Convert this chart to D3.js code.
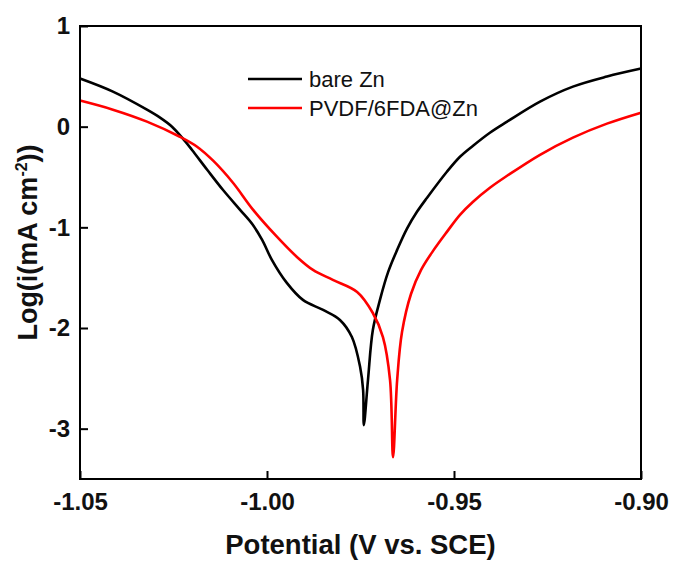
<!DOCTYPE html>
<html>
<head>
<meta charset="utf-8">
<script src="https://cdn.jsdelivr.net/npm/d3@7"></script>
<style>
  body { margin: 0; background: #fff; }
  text { font-family: Arial, "Liberation Sans", sans-serif; }
</style>
</head>
<body>
<div id="chart"></div>
<script>
// Tafel curves
const bareE = [-1.0500, -1.0412, -1.0321, -1.0286, -1.0254, -1.0227, -1.0201, -1.0160, -1.0118, -1.0072, -1.0040,
  -1.0013, -0.9987, -0.9947, -0.9904, -0.9850, -0.9805, -0.9773, -0.9751, -0.9743, -0.9741, -0.9730, -0.9717,
  -0.9698, -0.9676, -0.9652, -0.9626, -0.9599, -0.9572, -0.9519, -0.9484, -0.9449, -0.9404, -0.9358, -0.9270,
  -0.9182, -0.9091, -0.9000]
const bareLog = [0.478, 0.348, 0.169, 0.090, 0.000, -0.109, -0.229, -0.428, -0.627, -0.826, -0.965,
  -1.124, -1.323, -1.552, -1.721, -1.821, -1.920, -2.090, -2.388, -2.617, -2.965, -2.517, -2.020,
  -1.721, -1.443, -1.224, -1.015, -0.846, -0.706, -0.448, -0.299, -0.189, -0.060, 0.050, 0.249,
  0.398, 0.498, 0.577]

const pvdfE = [-1.0500, -1.0412, -1.0321, -1.0233, -1.0187, -1.0144, -1.0091, -1.0037, -0.9973,
  -0.9920, -0.9877, -0.9824, -0.9759, -0.9717, -0.9690, -0.9671, -0.9663, -0.9652, -0.9639,
  -0.9615, -0.9588, -0.9556, -0.9519, -0.9484, -0.9449, -0.9404, -0.9358, -0.9270, -0.9182,
  -0.9091, -0.9000]
const pvdfLog = [0.259, 0.169, 0.050, -0.100, -0.199, -0.338, -0.557, -0.826, -1.095,
  -1.294, -1.423, -1.522, -1.642, -1.851, -2.090, -2.517, -3.284, -2.517, -2.040,
  -1.662, -1.423, -1.234, -1.045, -0.876, -0.746, -0.607, -0.488, -0.279, -0.109,
  0.030, 0.139]

const xTicks = [-1.05, -1.00, -0.95, -0.90]
const yTicks = [1, 0, -1, -2, -3]
const seriesNames = ["bare Zn", "PVDF/6FDA@Zn"]
const seriesColors = ["#000000", "#ff0000"]

const margin = {top: 26, right: 33, bottom: 82, left: 80}
const width = 674 - margin.left - margin.right
const height = 561 - margin.top - margin.bottom

const svg = d3.select("#chart").append("svg")
    .attr("width", 674)
    .attr("height", 561)
  .append("g")
    .attr("transform", `translate(${margin.left},${margin.top})`)

const x = d3.scaleLinear().domain([-1.05, -0.90]).range([0, width])
const y = d3.scaleLinear().domain([-3.5, 1]).range([height, 0])

// curves
const series = [
  bareE.map((e, i) => ({e: e, v: bareLog[i]})),
  pvdfE.map((e, i) => ({e: e, v: pvdfLog[i]}))
]
const line = d3.line()
    .x(d => x(d.e))
    .y(d => y(d.v))
    .curve(d3.curveCatmullRom.alpha(0.5))

svg.selectAll(".curve")
    .data(series)
  .enter().append("path")
    .attr("class", "curve")
    .attr("d", line)
    .attr("fill", "none")
    .attr("stroke", (d, i) => seriesColors[i])
    .attr("stroke-width", 2.6)
    .attr("stroke-linejoin", "round")

// axes, ticks point inward, plain hyphen for minus
const xAxis = d3.axisBottom(x).tickValues(xTicks).tickFormat(d => d.toFixed(2))
    .tickSizeInner(-8).tickSizeOuter(0).tickPadding(14)
const yAxis = d3.axisLeft(y).tickValues(yTicks).tickFormat(d => String(d))
    .tickSizeInner(-8).tickSizeOuter(0).tickPadding(10)

const gx = svg.append("g")
    .attr("transform", `translate(0,${height})`)
    .call(xAxis)
const gy = svg.append("g").call(yAxis)

gx.select(".domain").remove()
gy.select(".domain").remove()
svg.selectAll(".tick line").attr("stroke", "#000").attr("stroke-width", 2)
svg.selectAll(".tick text")
    .attr("font-size", "24px")
    .attr("font-weight", "bold")
    .attr("fill", "#111")
gx.selectAll(".tick text").attr("dy", "0.71em")

// frame
svg.append("rect")
    .attr("width", width)
    .attr("height", height)
    .attr("fill", "none")
    .attr("stroke", "#000")
    .attr("stroke-width", 2)

// axis titles
svg.append("text")
    .attr("x", width / 2)
    .attr("y", height + 75)
    .attr("text-anchor", "middle")
    .attr("font-size", "27.5px")
    .attr("font-weight", "bold")
    .attr("fill", "#111")
    .text("Potential (V vs. SCE)")

const yTitle = svg.append("text")
    .attr("transform", `translate(-43,${height / 2 - 10}) rotate(-90)`)
    .attr("text-anchor", "middle")
    .attr("font-size", "27px")
    .attr("font-weight", "bold")
    .attr("fill", "#111")
yTitle.append("tspan").text("Log(i(mA cm")
yTitle.append("tspan").text("-2").attr("font-size", "16px").attr("dy", "-10")
yTitle.append("tspan").text("))").attr("dy", "10")

// legend
const legend = svg.append("g").attr("transform", "translate(168,53)")
seriesNames.forEach(function(name, i) {
    let row = legend.append("g").attr("transform", `translate(0,${i * 29})`)
    row.append("line")
        .attr("x1", 0).attr("x2", 54)
        .attr("stroke", seriesColors[i])
        .attr("stroke-width", 2.6)
    row.append("text")
        .attr("x", 61)
        .attr("y", 8)
        .attr("font-size", "22px")
        .attr("fill", "#111")
        .text(name)
})
</script>
</body>
</html>
